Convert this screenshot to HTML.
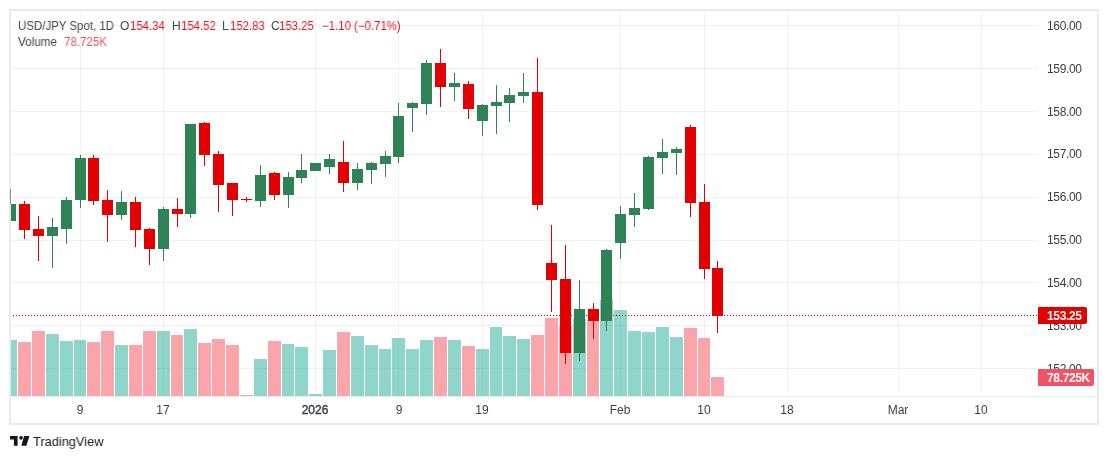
<!DOCTYPE html>
<html><head><meta charset="utf-8">
<style>
div{will-change:transform;}
html,body{margin:0;padding:0;background:#fff;width:1108px;height:459px;overflow:hidden;position:relative;font-family:"Liberation Sans",sans-serif;}
svg{position:absolute;left:0;top:0;}
.t{position:absolute;white-space:nowrap;color:#3b3e48;font-size:12px;line-height:12px;}
.pa{position:absolute;left:1046.5px;font-size:12px;line-height:12px;color:#3b3e48;letter-spacing:-0.35px;}
.ta{position:absolute;top:404px;font-size:12px;line-height:12px;color:#3b3e48;transform:translateX(-50%);}
.lg{position:absolute;left:18px;font-size:12px;line-height:14px;color:#434651;white-space:nowrap;}
.r{color:#e20000}
</style></head><body>
<svg width="1108" height="459"><defs><clipPath id="pane"><rect x="11" y="11" width="1027" height="385"/></clipPath></defs><g clip-path="url(#pane)" shape-rendering="crispEdges"><rect x="11" y="25" width="1027" height="1" fill="rgba(20,20,30,0.06)"/><rect x="11" y="68" width="1027" height="1" fill="rgba(20,20,30,0.06)"/><rect x="11" y="111" width="1027" height="1" fill="rgba(20,20,30,0.06)"/><rect x="11" y="154" width="1027" height="1" fill="rgba(20,20,30,0.06)"/><rect x="11" y="197" width="1027" height="1" fill="rgba(20,20,30,0.06)"/><rect x="11" y="240" width="1027" height="1" fill="rgba(20,20,30,0.06)"/><rect x="11" y="282" width="1027" height="1" fill="rgba(20,20,30,0.06)"/><rect x="11" y="325" width="1027" height="1" fill="rgba(20,20,30,0.06)"/><rect x="11" y="368" width="1027" height="1" fill="rgba(20,20,30,0.06)"/><rect x="80" y="11" width="1" height="385" fill="rgba(20,20,30,0.055)"/><rect x="163" y="11" width="1" height="385" fill="rgba(20,20,30,0.055)"/><rect x="315" y="11" width="1" height="385" fill="rgba(20,20,30,0.055)"/><rect x="398" y="11" width="1" height="385" fill="rgba(20,20,30,0.055)"/><rect x="482" y="11" width="1" height="385" fill="rgba(20,20,30,0.055)"/><rect x="620" y="11" width="1" height="385" fill="rgba(20,20,30,0.055)"/><rect x="704" y="11" width="1" height="385" fill="rgba(20,20,30,0.055)"/><rect x="787" y="11" width="1" height="385" fill="rgba(20,20,30,0.055)"/><rect x="898" y="11" width="1" height="385" fill="rgba(20,20,30,0.055)"/><rect x="981" y="11" width="1" height="385" fill="rgba(20,20,30,0.055)"/><rect x="4" y="340" width="13" height="56" fill="rgba(34,171,148,0.5)"/><rect x="18" y="342" width="13" height="54" fill="#f9a5ab"/><rect x="32" y="331" width="13" height="65" fill="#f9a5ab"/><rect x="46" y="334" width="13" height="62" fill="rgba(34,171,148,0.5)"/><rect x="60" y="341" width="13" height="55" fill="rgba(34,171,148,0.5)"/><rect x="74" y="340" width="12" height="56" fill="rgba(34,171,148,0.5)"/><rect x="87" y="342" width="13" height="54" fill="#f9a5ab"/><rect x="101" y="331" width="13" height="65" fill="#f9a5ab"/><rect x="115" y="345" width="13" height="51" fill="rgba(34,171,148,0.5)"/><rect x="129" y="345" width="13" height="51" fill="#f9a5ab"/><rect x="143" y="331" width="13" height="65" fill="#f9a5ab"/><rect x="157" y="331" width="13" height="65" fill="rgba(34,171,148,0.5)"/><rect x="171" y="335" width="12" height="61" fill="#f9a5ab"/><rect x="184" y="329" width="13" height="67" fill="rgba(34,171,148,0.5)"/><rect x="198" y="343" width="13" height="53" fill="#f9a5ab"/><rect x="212" y="339" width="13" height="57" fill="#f9a5ab"/><rect x="226" y="345" width="13" height="51" fill="#f9a5ab"/><rect x="240" y="395" width="13" height="1" fill="#f9a5ab"/><rect x="254" y="359" width="13" height="37" fill="rgba(34,171,148,0.5)"/><rect x="268" y="341" width="13" height="55" fill="#f9a5ab"/><rect x="282" y="344" width="12" height="52" fill="rgba(34,171,148,0.5)"/><rect x="295" y="347" width="13" height="49" fill="rgba(34,171,148,0.5)"/><rect x="309" y="394" width="13" height="2" fill="rgba(34,171,148,0.5)"/><rect x="323" y="350" width="13" height="46" fill="rgba(34,171,148,0.5)"/><rect x="337" y="332" width="13" height="64" fill="#f9a5ab"/><rect x="351" y="336" width="13" height="60" fill="rgba(34,171,148,0.5)"/><rect x="365" y="345" width="13" height="51" fill="rgba(34,171,148,0.5)"/><rect x="379" y="349" width="12" height="47" fill="rgba(34,171,148,0.5)"/><rect x="392" y="338" width="13" height="58" fill="rgba(34,171,148,0.5)"/><rect x="406" y="349" width="13" height="47" fill="rgba(34,171,148,0.5)"/><rect x="420" y="340" width="13" height="56" fill="rgba(34,171,148,0.5)"/><rect x="434" y="337" width="13" height="59" fill="#f9a5ab"/><rect x="448" y="340" width="13" height="56" fill="rgba(34,171,148,0.5)"/><rect x="462" y="346" width="13" height="50" fill="#f9a5ab"/><rect x="476" y="349" width="13" height="47" fill="rgba(34,171,148,0.5)"/><rect x="490" y="327" width="12" height="69" fill="rgba(34,171,148,0.5)"/><rect x="503" y="336" width="13" height="60" fill="rgba(34,171,148,0.5)"/><rect x="517" y="339" width="13" height="57" fill="rgba(34,171,148,0.5)"/><rect x="531" y="335" width="13" height="61" fill="#f9a5ab"/><rect x="545" y="318" width="13" height="78" fill="#f9a5ab"/><rect x="559" y="326" width="13" height="70" fill="#f9a5ab"/><rect x="573" y="319" width="13" height="77" fill="rgba(34,171,148,0.5)"/><rect x="587" y="320" width="12" height="76" fill="#f9a5ab"/><rect x="600" y="300" width="13" height="96" fill="rgba(34,171,148,0.5)"/><rect x="614" y="310" width="13" height="86" fill="rgba(34,171,148,0.5)"/><rect x="628" y="331" width="13" height="65" fill="rgba(34,171,148,0.5)"/><rect x="642" y="332" width="13" height="64" fill="rgba(34,171,148,0.5)"/><rect x="656" y="327" width="13" height="69" fill="rgba(34,171,148,0.5)"/><rect x="670" y="337" width="13" height="59" fill="rgba(34,171,148,0.5)"/><rect x="684" y="328" width="13" height="68" fill="#f9a5ab"/><rect x="698" y="338" width="12" height="58" fill="#f9a5ab"/><rect x="711" y="377" width="13" height="19" fill="#f9a5ab"/><line x1="10" y1="315.5" x2="1038" y2="315.5" stroke="#e20000" stroke-width="1" stroke-dasharray="1 2"/><rect x="10" y="189" width="1" height="32" fill="#2e8255"/><rect x="5" y="204" width="11" height="17" fill="#2e8255"/><rect x="24" y="201" width="1" height="38" fill="#e20000"/><rect x="19" y="204" width="11" height="26" fill="#e20000"/><rect x="38" y="216" width="1" height="45" fill="#e20000"/><rect x="33" y="229" width="11" height="7" fill="#e20000"/><rect x="52" y="218" width="1" height="50" fill="#2e8255"/><rect x="47" y="227" width="11" height="9" fill="#2e8255"/><rect x="66" y="197" width="1" height="47" fill="#2e8255"/><rect x="61" y="200" width="11" height="29" fill="#2e8255"/><rect x="80" y="155" width="1" height="53" fill="#2e8255"/><rect x="75" y="158" width="11" height="42" fill="#2e8255"/><rect x="93" y="155" width="1" height="50" fill="#e20000"/><rect x="88" y="158" width="11" height="43" fill="#e20000"/><rect x="107" y="190" width="1" height="52" fill="#e20000"/><rect x="102" y="200" width="11" height="15" fill="#e20000"/><rect x="121" y="191" width="1" height="29" fill="#2e8255"/><rect x="116" y="202" width="11" height="13" fill="#2e8255"/><rect x="135" y="197" width="1" height="50" fill="#e20000"/><rect x="130" y="202" width="11" height="28" fill="#e20000"/><rect x="149" y="228" width="1" height="37" fill="#e20000"/><rect x="144" y="229" width="11" height="20" fill="#e20000"/><rect x="163" y="207" width="1" height="54" fill="#2e8255"/><rect x="158" y="209" width="11" height="40" fill="#2e8255"/><rect x="177" y="198" width="1" height="29" fill="#e20000"/><rect x="172" y="209" width="11" height="5" fill="#e20000"/><rect x="190" y="124" width="1" height="94" fill="#2e8255"/><rect x="185" y="124" width="11" height="90" fill="#2e8255"/><rect x="204" y="122" width="1" height="44" fill="#e20000"/><rect x="199" y="123" width="11" height="32" fill="#e20000"/><rect x="218" y="151" width="1" height="61" fill="#e20000"/><rect x="213" y="154" width="11" height="31" fill="#e20000"/><rect x="232" y="183" width="1" height="33" fill="#e20000"/><rect x="227" y="183" width="11" height="17" fill="#e20000"/><rect x="246" y="197" width="1" height="5" fill="#e20000"/><rect x="241" y="199" width="11" height="1" fill="#e20000"/><rect x="260" y="165" width="1" height="42" fill="#2e8255"/><rect x="255" y="175" width="11" height="26" fill="#2e8255"/><rect x="274" y="172" width="1" height="28" fill="#e20000"/><rect x="269" y="173" width="11" height="22" fill="#e20000"/><rect x="288" y="172" width="1" height="36" fill="#2e8255"/><rect x="283" y="177" width="11" height="18" fill="#2e8255"/><rect x="301" y="154" width="1" height="29" fill="#2e8255"/><rect x="296" y="170" width="11" height="8" fill="#2e8255"/><rect x="315" y="163" width="1" height="8" fill="#2e8255"/><rect x="310" y="163" width="11" height="8" fill="#2e8255"/><rect x="329" y="154" width="1" height="20" fill="#2e8255"/><rect x="324" y="159" width="11" height="8" fill="#2e8255"/><rect x="343" y="141" width="1" height="51" fill="#e20000"/><rect x="338" y="162" width="11" height="21" fill="#e20000"/><rect x="357" y="163" width="1" height="27" fill="#2e8255"/><rect x="352" y="169" width="11" height="14" fill="#2e8255"/><rect x="371" y="162" width="1" height="22" fill="#2e8255"/><rect x="366" y="163" width="11" height="7" fill="#2e8255"/><rect x="385" y="151" width="1" height="26" fill="#2e8255"/><rect x="380" y="156" width="11" height="8" fill="#2e8255"/><rect x="398" y="103" width="1" height="60" fill="#2e8255"/><rect x="393" y="116" width="11" height="41" fill="#2e8255"/><rect x="412" y="102" width="1" height="30" fill="#2e8255"/><rect x="407" y="103" width="11" height="5" fill="#2e8255"/><rect x="426" y="60" width="1" height="55" fill="#2e8255"/><rect x="421" y="63" width="11" height="41" fill="#2e8255"/><rect x="440" y="49" width="1" height="58" fill="#e20000"/><rect x="435" y="63" width="11" height="24" fill="#e20000"/><rect x="454" y="73" width="1" height="28" fill="#2e8255"/><rect x="449" y="83" width="11" height="4" fill="#2e8255"/><rect x="468" y="81" width="1" height="38" fill="#e20000"/><rect x="463" y="84" width="11" height="25" fill="#e20000"/><rect x="482" y="104" width="1" height="32" fill="#2e8255"/><rect x="477" y="105" width="11" height="16" fill="#2e8255"/><rect x="496" y="85" width="1" height="49" fill="#2e8255"/><rect x="491" y="102" width="11" height="4" fill="#2e8255"/><rect x="509" y="88" width="1" height="34" fill="#2e8255"/><rect x="504" y="95" width="11" height="8" fill="#2e8255"/><rect x="523" y="73" width="1" height="30" fill="#2e8255"/><rect x="518" y="92" width="11" height="4" fill="#2e8255"/><rect x="537" y="58" width="1" height="152" fill="#e20000"/><rect x="532" y="92" width="11" height="113" fill="#e20000"/><rect x="551" y="225" width="1" height="87" fill="#e20000"/><rect x="546" y="263" width="11" height="17" fill="#e20000"/><rect x="565" y="245" width="1" height="119" fill="#e20000"/><rect x="560" y="279" width="11" height="74" fill="#e20000"/><rect x="579" y="280" width="1" height="81" fill="#2e8255"/><rect x="574" y="309" width="11" height="44" fill="#2e8255"/><rect x="593" y="303" width="1" height="36" fill="#e20000"/><rect x="588" y="309" width="11" height="12" fill="#e20000"/><rect x="606" y="249" width="1" height="82" fill="#2e8255"/><rect x="601" y="250" width="11" height="71" fill="#2e8255"/><rect x="620" y="206" width="1" height="53" fill="#2e8255"/><rect x="615" y="214" width="11" height="29" fill="#2e8255"/><rect x="634" y="193" width="1" height="34" fill="#2e8255"/><rect x="629" y="208" width="11" height="7" fill="#2e8255"/><rect x="648" y="156" width="1" height="54" fill="#2e8255"/><rect x="643" y="157" width="11" height="52" fill="#2e8255"/><rect x="662" y="139" width="1" height="35" fill="#2e8255"/><rect x="657" y="152" width="11" height="6" fill="#2e8255"/><rect x="676" y="147" width="1" height="28" fill="#2e8255"/><rect x="671" y="149" width="11" height="4" fill="#2e8255"/><rect x="690" y="125" width="1" height="92" fill="#e20000"/><rect x="685" y="127" width="11" height="76" fill="#e20000"/><rect x="704" y="184" width="1" height="95" fill="#e20000"/><rect x="699" y="202" width="11" height="67" fill="#e20000"/><rect x="717" y="261" width="1" height="72" fill="#e20000"/><rect x="712" y="268" width="11" height="48" fill="#e20000"/></g><g shape-rendering="crispEdges"><rect x="9" y="9" width="1090" height="2" fill="#e8eaef"/><rect x="9" y="423" width="1090" height="2" fill="#e8eaef"/><rect x="9" y="9" width="2" height="416" fill="#e8eaef"/><rect x="1097" y="9" width="2" height="416" fill="#e8eaef"/><rect x="11" y="396" width="1027" height="1" fill="#e8eaef"/><rect x="1039" y="396" width="58" height="1" fill="#e8eaef"/><rect x="10" y="189" width="1" height="15" fill="#8d939b"/></g></svg>
<div class="pa" style="top:19.7px">160.00</div>
<div class="pa" style="top:62.6px">159.00</div>
<div class="pa" style="top:105.5px">158.00</div>
<div class="pa" style="top:148.3px">157.00</div>
<div class="pa" style="top:191.2px">156.00</div>
<div class="pa" style="top:234.1px">155.00</div>
<div class="pa" style="top:276.9px">154.00</div>
<div class="pa" style="top:319.8px">153.00</div>
<div class="pa" style="top:362.7px">152.00</div>
<div style="position:absolute;left:1038px;top:307px;width:49px;height:17px;background:#e20000;border-radius:0 2px 2px 0;"></div><div class="pa" style="top:310px;color:#fff;font-weight:bold;">153.25</div>
<div style="position:absolute;left:1038px;top:369px;width:56px;height:17px;background:#f05364;border-radius:0 2px 2px 0;"></div><div class="pa" style="top:372px;color:#fff;font-weight:bold;">78.725K</div>
<div class="ta" style="left:80px;">9</div>
<div class="ta" style="left:163px;">17</div>
<div class="ta" style="left:315.4px;-webkit-text-stroke:0.4px #3b3e48;">2026</div>
<div class="ta" style="left:398.7px;">9</div>
<div class="ta" style="left:481.8px;">19</div>
<div class="ta" style="left:620.4px;">Feb</div>
<div class="ta" style="left:703.8px;">10</div>
<div class="ta" style="left:786.9px;">18</div>
<div class="ta" style="left:897.5px;">Mar</div>
<div class="ta" style="left:980.7px;">10</div>
<div class="lg" style="left:17.8px;top:18.5px;color:#434651;transform:scaleX(0.955);transform-origin:0 0;">USD/JPY Spot, 1D</div>
<div class="lg" style="left:119.9px;top:18.5px;color:#434651;transform:scaleX(0.955);transform-origin:0 0;">O</div>
<div class="lg" style="left:130.1px;top:18.5px;color:#e4161f;transform:scaleX(0.95);transform-origin:0 0;">154.34</div>
<div class="lg" style="left:171.6px;top:18.5px;color:#434651;transform:scaleX(0.955);transform-origin:0 0;">H</div>
<div class="lg" style="left:181.2px;top:18.5px;color:#e4161f;transform:scaleX(0.95);transform-origin:0 0;">154.52</div>
<div class="lg" style="left:222.4px;top:18.5px;color:#434651;transform:scaleX(0.955);transform-origin:0 0;">L</div>
<div class="lg" style="left:229.6px;top:18.5px;color:#e4161f;transform:scaleX(0.95);transform-origin:0 0;">152.83</div>
<div class="lg" style="left:271.4px;top:18.5px;color:#434651;transform:scaleX(0.955);transform-origin:0 0;">C</div>
<div class="lg" style="left:279.4px;top:18.5px;color:#e4161f;transform:scaleX(0.95);transform-origin:0 0;">153.25</div>
<div class="lg" style="left:322.0px;top:18.5px;color:#e4161f;transform:scaleX(0.95);transform-origin:0 0;">−1.10 (−0.71%)</div>
<div class="lg" style="left:17.8px;top:35px;color:#434651;transform:scaleX(0.975);transform-origin:0 0;">Volume</div>
<div class="lg" style="left:64.3px;top:35px;color:#f0525e;transform:scaleX(0.96);transform-origin:0 0;">78.725K</div>
<svg width="24" height="12" style="left:10px;top:435px" viewBox="0 0 24 12"><path d="M0 0.9h7.6v9.8H3.9V4.6H0z" fill="#131722"/><circle cx="11.05" cy="2.85" r="1.85" fill="#131722"/><path d="M14.1 0.9H19.4L16.4 10.7H11.3z" fill="#131722"/></svg>
<div class="t" style="left:32.5px;top:434.8px;font-size:13px;line-height:14px;color:#131722;transform:scaleX(0.985);transform-origin:0 0;">TradingView</div>
</body></html>
